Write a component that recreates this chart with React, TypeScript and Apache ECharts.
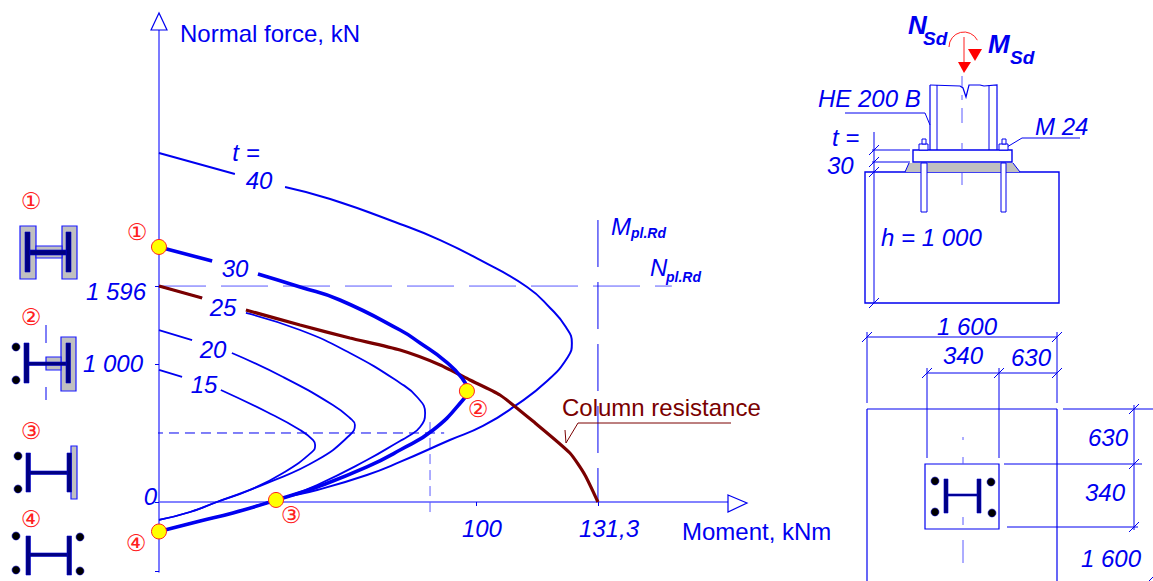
import React, { useEffect, useRef } from "react";
import * as echarts from "echarts";

// Values: [moment kNm, normal force kN]; [x, null] is a gap in the curve for its label.
const sharedTail = [[37.1, 30], [22.1, -81], [12.3, -140], [0, -218]];
const smallTail = [[17.3, 0], [9.3, -74], [0, -133]];
const t40 = [[0, 2579], [22.7, 2424], [30, null], [37.7, 2328], [51.2, 2239], [72.1, 2055], [84.1, 1936], [96, 1789], [110.1, 1589], [117, 1434], [121.7, 1293], [123.5, 1175], [122.3, 1072], [116.1, 894], [106.5, 710], [96.9, 562], [87, 458], [72.1, 296], [62.2, 200], [47.3, 89], ...sharedTail];
const t30 = [[0, 1885], [15.9, 1781], [22, null], [29.6, 1685], [42.2, 1589], [54.1, 1493], [72.1, 1271], [78.1, 1175], [85.6, 1042], [90.6, 916], [92.1, 820], [90.9, 754], [82, 532], [72.1, 384], [62.2, 259], [47.3, 111], ...sharedTail];
const t25 = [[0, 1596], [12.9, 1508], [20, null], [26, 1397], [42.2, 1271], [57.1, 1101], [72.1, 880], [77.2, 776], [79.6, 658], [78.1, 554], [74.2, 480], [72.1, 451], [62.2, 310], [47.3, 126], ...sharedTail];
const t20 = [[0, 1271], [9.9, 1197], [15, null], [21.8, 1101], [37.1, 924], [52, 717], [57.1, 621], [58.6, 569], [57.1, 495], [47.3, 310], [32.3, 140], ...smallTail];
const t15 = [[0, 976], [6.9, 924], [12, null], [18.5, 828], [32.3, 665], [42.2, 532], [46.1, 458], [46.7, 421], [45.8, 370], [37.1, 214], [27.2, 89], ...smallTail];
const columnResistance = [[0, 1596], [12.9, 1508], [20, null], [26, 1419], [42.2, 1308], [57.1, 1212], [72.1, 1123], [84.1, 1013], [93, 902], [102, 791], [112.5, 584], [122.9, 362], [127.4, 200], [131.3, 0]];
const designPoints = [[0, 1885], [92.1, 820], [35, 15], [0, -218]];
const nPlRd = [[0, 1596], [153.4, 1596]];
const mPlRd = [[131.3, 2084], [131.3, 0]];
const guideH = [[-1.8, 510], [85.3, 510]];
const guideV = [[81.07, 591], [81.07, -96]];
const xTicks = [94.8, 131.3];
const yTicks = [-510, 0, 1020, 1596];
const xTickLabels: Record<string, string> = { "94.8": "{a|100}", "131.3": "{b|131,3}" };
const yTickLabels: Record<string, string> = { "0": "{z|0}", "1020": "{k|1 000}", "1596": "{p|1 596}", "-510": "" };

const BLUE = "#0000f0";
const AXIS = "#5a5aff";
const RED = "#ff2020";
const NAVY = "#000080";
const MAROON = "#7a0000";
const GRAY = "#c0c0c0";
const FONT = "'Liberation Sans', Arial, sans-serif";

const T = (text: string, x: number, y: number, size = 24, o: any = {}) => ({
  type: "text", z: 20, silent: true,
  style: {
    text, x, y, fill: o.fill ?? BLUE, textAlign: o.align ?? "center", textVerticalAlign: "middle",
    font: `${o.weight ?? "normal"} ${o.style ?? "italic"} ${size}px ${o.family ?? FONT}`.replace("normal italic", "italic").replace("normal normal", "normal"),
  },
});
const L = (x1: number, y1: number, x2: number, y2: number, stroke = BLUE, lineWidth = 1, lineDash?: number[]) => ({
  type: "line", z: 15, silent: true, shape: { x1, y1, x2, y2 }, style: { stroke, lineWidth, lineDash },
});
const R = (x: number, y: number, w: number, h: number, fill = "#fff", stroke: string | null = BLUE, lineWidth = 1, z = 14) => ({
  type: "rect", z, silent: true, shape: { x, y, width: w, height: h }, style: { fill, stroke, lineWidth },
});
const C = (cx: number, cy: number, r = 4, fill = "#000") => ({
  type: "circle", z: 16, silent: true, shape: { cx, cy, r }, style: { fill, stroke: "#0000c0", lineWidth: 0.6 },
});
const PG = (points: number[][], fill: string, stroke: string | null = null, lineWidth = 1) => ({
  type: "polygon", z: 15, silent: true, shape: { points }, style: { fill, stroke, lineWidth },
});
const PL = (points: number[][], stroke = BLUE, lineWidth = 1) => ({
  type: "polyline", z: 15, silent: true, shape: { points }, style: { stroke, lineWidth, fill: "none" },
});
const S = (x: number, y: number) => L(x - 5, y + 5, x + 5, y - 5, BLUE, 1);
const navy = (x: number, y: number, w: number, h: number) => R(x, y, w, h, NAVY, "#0000d0", 0.6, 16);
const plate = (x: number, y: number, w: number, h: number) => R(x, y, w, h, GRAY, "#1a1aff", 1.2, 14);
const num = (s: string, x: number, y: number) => T(s, x, y, 23, { fill: RED, style: "normal", family: "'DejaVu Sans', sans-serif" });

const graphics: any[] = [
  // axis arrow heads
  PG([[151, 30], [159, 13], [167, 30]], "#fff", BLUE, 1.2),
  PG([[728, 495], [747, 503], [728, 512]], "#fff", BLUE, 1.2),
  // curve labels
  T("t =", 246, 152), T("40", 259, 180), T("30", 235, 268), T("25", 223, 307), T("20", 213, 349), T("15", 204, 384),
  // reference labels
  T("M", 611, 226, 24, { align: "left" }), T("pl.Rd", 631, 233, 14, { align: "left", weight: "bold" }),
  T("N", 650, 267, 24, { align: "left" }), T("pl.Rd", 666, 277, 14, { align: "left", weight: "bold" }),
  T("Column resistance", 562, 407, 24, { align: "left", style: "normal", fill: MAROON }),
  PL([[565, 430], [566, 443], [578, 423], [731, 423]], MAROON, 1),
  num("①", 137, 232), num("②", 478, 409), num("③", 291, 515), num("④", 136, 543),
  // left icons
  num("①", 31, 201), num("②", 31, 317), num("③", 31, 431), num("④", 31, 519),
  plate(20, 226, 16, 53), plate(62, 226, 15, 53), plate(36, 246, 26, 12),
  navy(25, 232, 5, 40), navy(66, 232, 5, 40), navy(30, 250, 36, 5),
  plate(61, 337, 15, 54), plate(46, 357, 15, 13),
  navy(24, 343, 5, 40), navy(66, 343, 4.5, 40), navy(29, 362, 37, 3.5),
  L(46, 325, 46, 343, BLUE, 1), L(46, 387, 46, 400, BLUE, 1),
  C(16, 347), C(16, 380),
  plate(71, 446, 6, 53), navy(26, 453, 4.5, 39), navy(67, 453, 4.5, 39), navy(30, 471, 37, 3.5), C(18, 456), C(18, 489),
  navy(26, 536, 4.5, 39), navy(67, 536, 4.5, 39), navy(30, 553, 37, 3.5), C(16, 536), C(16, 570), C(80, 537), C(80, 571),
  // elevation drawing
  T("N", 908, 25, 26, { align: "left", weight: "bold" }), T("Sd", 923, 38, 19, { align: "left", weight: "bold" }),
  T("M", 988, 44, 26, { align: "left", weight: "bold" }), T("Sd", 1010, 57, 19, { align: "left", weight: "bold" }),
  { type: "arc", z: 15, silent: true, shape: { cx: 964, cy: 47, r: 15, startAngle: Math.PI, endAngle: Math.PI * 1.85, clockwise: true }, style: { stroke: RED, lineWidth: 1, fill: "none" } },
  L(964, 37, 964, 63, RED, 1),
  PG([[958, 62], [971, 62], [964, 73]], "#ff0000"),
  PG([[968, 49], [982, 49], [975, 61]], "#ff0000"),
  L(962, 76, 962, 87, AXIS, 1), L(962, 95, 962, 100, AXIS, 1), L(962, 108, 962, 123, AXIS, 1), L(962, 143, 962, 150, AXIS, 1), L(962, 173, 962, 185, AXIS, 1),
  PL([[930, 85], [960, 86], [963, 88], [966, 97], [969, 85], [980, 85], [984, 86], [997, 85], [997, 150]], BLUE, 1.2),
  L(930, 85, 930, 150, BLUE, 1.2), L(937, 85, 937, 150, BLUE, 1), L(989, 85, 989, 150, BLUE, 1),
  R(913, 150, 99, 12, "#fff", BLUE, 1.4),
  PG([[909, 163], [1013, 163], [1020, 172], [905, 172]], GRAY),
  L(909, 163, 905, 172, BLUE, 1), L(1013, 163, 1020, 172, BLUE, 1),
  R(865, 172, 194, 131, "none", BLUE, 1.4, 13),
  L(874, 132, 874, 303, BLUE, 1),
  L(872, 150, 910, 150, BLUE, 1), L(872, 162, 910, 162, BLUE, 1),
  S(874, 150), S(874, 162), S(874, 172), S(874, 303),
  R(921, 163, 6, 49, "#fff", BLUE, 1, 16), R(1001, 163, 5, 49, "#fff", BLUE, 1, 16),
  R(919, 144, 9, 6, "#fff", BLUE, 1, 16), R(922, 139, 4, 5, "#fff", BLUE, 1, 16),
  R(999, 144, 9, 6, "#fff", BLUE, 1, 16), R(1002, 139, 4, 5, "#fff", BLUE, 1, 16),
  T("HE 200 B", 818, 98, 24, { align: "left" }),
  PL([[845, 113], [925, 113], [930, 125]], BLUE, 1),
  T("M 24", 1035, 126, 24, { align: "left" }),
  PL([[1080, 138], [1022, 138], [1007, 147]], BLUE, 1),
  T("t =", 832, 137, 24, { align: "left" }), T("30", 827, 165, 24, { align: "left" }),
  T("h = 1 000", 881, 237, 24, { align: "left" }),
  // plan drawing
  T("1 600", 967, 326), T("340", 963, 355), T("630", 1031, 357),
  L(867, 337, 1057, 337), L(927, 373, 1057, 373),
  L(867, 332, 867, 403), L(1057, 332, 1057, 403), L(927, 368, 927, 458), L(999, 368, 999, 458),
  S(867, 337), S(1057, 337), S(927, 373), S(999, 373), S(1057, 373),
  L(867, 409, 1057, 409, BLUE, 1.2), L(867, 409, 867, 581, BLUE, 1.2), L(1057, 409, 1057, 581, BLUE, 1.2),
  R(925, 464, 74, 65, "none", BLUE, 1.2, 14),
  L(1063, 409, 1153, 409), L(1004, 464, 1142, 464), L(1007, 527, 1138, 527), L(1134, 405, 1134, 530),
  S(1134, 409), S(1134, 464), S(1134, 527), S(1151, 579),
  T("630", 1108, 437), T("340", 1105, 492), T("1 600", 1111, 558),
  L(963, 437, 963, 440, AXIS), L(963, 457, 963, 464, AXIS), L(963, 517, 963, 525, AXIS), L(963, 540, 963, 563, AXIS),
  navy(944, 479, 4, 34), navy(977, 479, 4, 34), navy(948, 494, 29, 2),
  C(935, 481), C(991, 482), C(935, 512), C(992, 513),
];

const curve = (name: string, data: any[], color: string, width: number, smooth = 0.5) => ({
  type: "line", name, data, symbol: "none", smooth, clip: false, connectNulls: false,
  lineStyle: { color, width }, z: 3,
});
const guide = (name: string, data: any[], color: string, dash: number[], width = 1) => ({
  type: "line", name, data, symbol: "none", clip: false,
  lineStyle: { color, width, type: dash }, z: 2,
});

export default function App() {
  const ref = useRef<HTMLDivElement>(null);
  useEffect(() => {
    const chart = echarts.init(ref.current!, null, { renderer: "svg" });
    const xAxisBase = {
      type: "value", min: 0, max: 170.8, splitLine: { show: false },
    };
    const yAxisBase = {
      type: "value", min: -517.4, max: 3488.5, splitLine: { show: false },
    };
    chart.setOption({
      animation: false,
      grid: { left: 159, top: 30, width: 571, height: 542, containLabel: false, outerBoundsMode: "none" },
      xAxis: [
        {
          ...xAxisBase,
          axisLine: { show: true, onZero: true, lineStyle: { color: AXIS, width: 1.6 } },
          axisTick: { show: true, customValues: xTicks, length: 4, lineStyle: { color: BLUE } },
          axisLabel: {
            show: true, customValues: xTicks, margin: -56,
            formatter: (v: number) => xTickLabels[String(v)] ?? "",
            rich: {
              a: { fontStyle: "italic", fontSize: 24, fontFamily: FONT, color: BLUE, padding: [0, 0, 0, 12] },
              b: { fontStyle: "italic", fontSize: 24, fontFamily: FONT, color: BLUE, padding: [0, 0, 0, 22] },
            },
          },
          name: "Moment, kNm", nameLocation: "end", nameGap: -48, nameMoveOverlap: false,
          nameTextStyle: { color: BLUE, fontSize: 24, fontFamily: FONT, align: "left", verticalAlign: "top", padding: [18, 0, 0, 0] },
        },
        { ...xAxisBase, axisLine: { show: false, onZero: true }, axisLabel: { show: false }, axisTick: { show: true, inside: true, customValues: xTicks, length: 3, lineStyle: { color: BLUE } } },
      ],
      yAxis: [
        {
          ...yAxisBase,
          axisLine: { show: true, onZero: true, lineStyle: { color: AXIS, width: 1.6 } },
          axisTick: { show: true, customValues: yTicks, length: 4, lineStyle: { color: BLUE } },
          axisLabel: {
            show: true, customValues: yTicks, margin: 2,
            formatter: (v: number) => yTickLabels[String(v)] ?? "",
            rich: {
              z: { fontStyle: "italic", fontSize: 24, fontFamily: FONT, color: BLUE, padding: [0, 0, 10, 0] },
              k: { fontStyle: "italic", fontSize: 24, fontFamily: FONT, color: BLUE, padding: [0, 14, 0, 0] },
              p: { fontStyle: "italic", fontSize: 24, fontFamily: FONT, color: BLUE, padding: [10, 11, 0, 0] },
            },
          },
          name: "Normal force, kN", nameLocation: "end", nameGap: -3, nameMoveOverlap: false,
          nameTextStyle: { color: BLUE, fontSize: 24, fontFamily: FONT, align: "left", verticalAlign: "middle", padding: [0, 0, 0, 21] },
        },
        { ...yAxisBase, axisLine: { show: false, onZero: true }, axisLabel: { show: false }, axisTick: { show: true, inside: true, customValues: yTicks, length: 4, lineStyle: { color: BLUE } } },
      ],
      series: [
        guide("NplRd", nPlRd, AXIS, [47, 15]),
        guide("MplRd", mPlRd, BLUE, [47, 15]),
        guide("guide N", guideH, BLUE, [10, 6]),
        guide("guide M", guideV, AXIS, [10, 6]),
        curve("t = 40", t40, BLUE, 2),
        curve("t = 25", t25, BLUE, 1.8),
        curve("t = 20", t20, BLUE, 1.8),
        curve("t = 15", t15, BLUE, 1.8),
        curve("Column resistance", columnResistance, MAROON, 3.2, 0.2),
        curve("t = 30", t30, BLUE, 3.6),
        {
          type: "scatter", name: "Design points", data: designPoints, symbolSize: 15, clip: false, z: 10,
          itemStyle: { color: "#ffff00", borderColor: RED, borderWidth: 1, opacity: 1 },
        },
      ],
      graphic: { elements: graphics },
    });
    return () => chart.dispose();
  }, []);
  return <div ref={ref} style={{ position: "fixed", left: 0, top: 0, width: 1153, height: 581, background: "#fff" }} />;
}
